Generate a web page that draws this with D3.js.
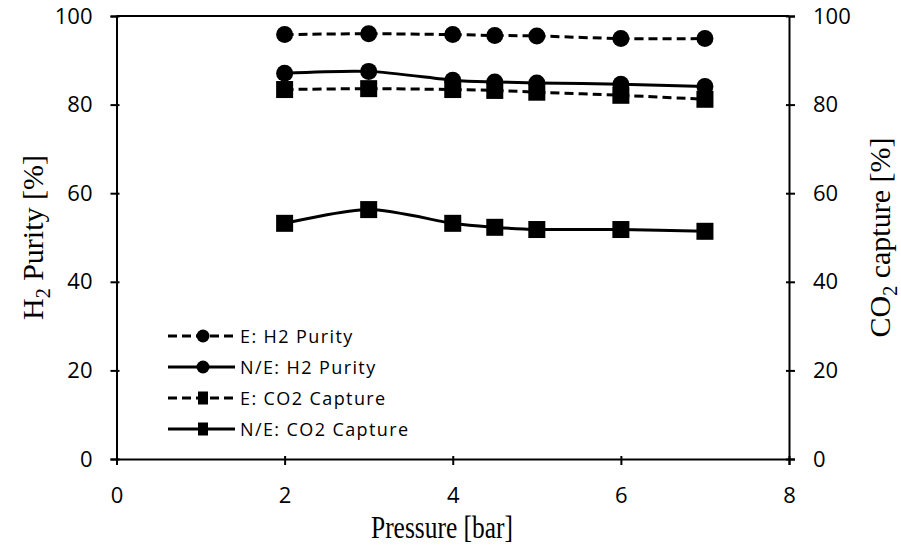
<!DOCTYPE html>
<html>
<head>
<meta charset="utf-8">
<script src="https://cdn.jsdelivr.net/npm/d3@7"></script>
<style>
  body { margin: 0; background: #fff; }
  .axis-title { font-family: "Liberation Serif", "Times New Roman", serif; font-size: 30px; fill: #000; }
  .legend-label { font-family: "Open Sans", sans-serif; font-size: 18px; letter-spacing: 1.4px; fill: #000; }
</style>
</head>
<body>
<script>
// pressure values on the x axis
const pressure = [2, 3, 4, 4.5, 5, 6, 7];

// H2 purity (left axis) and CO2 capture (right axis)
const eH2Purity = [95.8, 96.0, 95.8, 95.6, 95.5, 94.9, 94.9];
const neH2Purity = [87.1, 87.5, 85.5, 85.1, 84.9, 84.6, 84.1];
const eCO2Capture = [83.4, 83.6, 83.4, 83.2, 82.8, 82.1, 81.2];
const neCO2Capture = [53.2, 56.3, 53.2, 52.3, 51.8, 51.8, 51.4];

const xTicks = [0, 2, 4, 6, 8];
const yTicks = [0, 20, 40, 60, 80, 100];

const seriesNames = ["E: H2 Purity", "N/E: H2 Purity", "E: CO2 Capture", "N/E: CO2 Capture"];

const width = 901, height = 557;
const margin = { top: 16, right: 112, bottom: 98, left: 116.5 };

const svg = d3.select("body")
  .append("svg")
  .attr("width", width)
  .attr("height", height);

const x = d3.scaleLinear().domain([0, 8]).range([margin.left, width - margin.right]);
const yLeft = d3.scaleLinear().domain([0, 100]).range([height - margin.bottom, margin.top]);
const yRight = d3.scaleLinear().domain([0, 100]).range([height - margin.bottom, margin.top]);

// series list: which axis, dashed or not, marker type
const series = [
  { name: seriesNames[0], values: eH2Purity, y: yLeft, dashed: true, marker: "circle" },
  { name: seriesNames[1], values: neH2Purity, y: yLeft, dashed: false, marker: "circle" },
  { name: seriesNames[2], values: eCO2Capture, y: yRight, dashed: true, marker: "square" },
  { name: seriesNames[3], values: neCO2Capture, y: yRight, dashed: false, marker: "square" }
];

// top border of the plot area
svg.append("line")
  .attr("x1", x(0)).attr("x2", x(8))
  .attr("y1", yLeft(100)).attr("y2", yLeft(100))
  .attr("stroke", "#000").attr("stroke-width", 2);

// axes
const xAxis = svg.append("g")
  .attr("transform", `translate(0,${yLeft(0)})`)
  .call(d3.axisBottom(x).tickValues(xTicks).tickSize(6).tickPadding(22).tickFormat(d3.format("d")));

const leftAxis = svg.append("g")
  .attr("transform", `translate(${x(0)},0)`)
  .call(d3.axisLeft(yLeft).tickValues(yTicks).tickSize(6).tickPadding(18).tickFormat(d3.format("d")));

const rightAxis = svg.append("g")
  .attr("transform", `translate(${x(8)},0)`)
  .call(d3.axisRight(yRight).tickValues(yTicks).tickSize(6).tickPadding(18).tickFormat(d3.format("d")));

[xAxis, leftAxis, rightAxis].forEach((g) => {
  g.selectAll(".tick text")
    .style("font-family", "'Open Sans', sans-serif")
    .style("font-size", "22px")
    .attr("fill", "#000");
  g.select(".domain").attr("stroke", "#000").attr("stroke-width", 2);
  g.selectAll(".tick line").attr("stroke", "#000").attr("stroke-width", 2);
});
// the ticks cross the axis line a bit
leftAxis.selectAll(".tick line").attr("x1", 3);
rightAxis.selectAll(".tick line").attr("x1", -3);
xAxis.selectAll(".tick line").attr("y1", -3);

// lines, smoothed like the source
const lineFor = (s) => d3.line()
  .x((d, i) => x(pressure[i]))
  .y((d) => s.y(d))
  .curve(d3.curveCardinal.tension(0.2));

series.forEach((s) => {
  svg.append("path")
    .datum(s.values)
    .attr("fill", "none")
    .attr("stroke", "#000")
    .attr("stroke-width", 3)
    .attr("stroke-dasharray", s.dashed ? "9,5" : null)
    .attr("d", lineFor(s));
});

// markers
series.forEach((s) => {
  if (s.marker === "circle") {
    svg.selectAll(null)
      .data(s.values)
      .enter()
      .append("circle")
      .attr("cx", (d, i) => x(pressure[i]))
      .attr("cy", (d) => s.y(d))
      .attr("r", 8.5)
      .attr("fill", "#000");
  } else {
    svg.selectAll(null)
      .data(s.values)
      .enter()
      .append("rect")
      .attr("x", (d, i) => x(pressure[i]) - 8.5)
      .attr("y", (d) => s.y(d) - 8.5)
      .attr("width", 17)
      .attr("height", 17)
      .attr("fill", "#000");
  }
});

// axis titles
svg.append("text")
  .attr("class", "axis-title")
  .attr("x", 442)
  .attr("y", 538)
  .attr("text-anchor", "middle")
  .attr("textLength", 142)
  .attr("lengthAdjust", "spacingAndGlyphs")
  .style("font-size", "31px")
  .text("Pressure  [bar]");

const leftTitle = svg.append("text")
  .attr("class", "axis-title")
  .attr("transform", `translate(43,${(yLeft(0) + yLeft(100)) / 2}) rotate(-90)`)
  .attr("text-anchor", "middle");
leftTitle.append("tspan").text("H");
leftTitle.append("tspan").attr("font-size", "20px").attr("dy", 7).text("2");
leftTitle.append("tspan").attr("dy", -7).text(" Purity  [%]");

const rightTitle = svg.append("text")
  .attr("class", "axis-title")
  .attr("transform", `translate(890,${(yRight(0) + yRight(100)) / 2}) rotate(-90)`)
  .attr("text-anchor", "middle");
rightTitle.append("tspan").text("CO");
rightTitle.append("tspan").attr("font-size", "20px").attr("dy", 7).text("2");
rightTitle.append("tspan").attr("dy", -7).text(" capture  [%]");

// legend
const legend = svg.append("g").attr("transform", "translate(168,336)");
const rowGap = 31;
series.forEach((s, i) => {
  const row = legend.append("g").attr("transform", `translate(0,${i * rowGap})`);
  row.append("line")
    .attr("x1", 0).attr("x2", 67)
    .attr("y1", 0).attr("y2", 0)
    .attr("stroke", "#000")
    .attr("stroke-width", 3)
    .attr("stroke-dasharray", s.dashed ? "9,5" : null);
  if (s.marker === "circle") {
    row.append("circle").attr("cx", 35).attr("cy", 0).attr("r", 6.5).attr("fill", "#000");
  } else {
    row.append("rect").attr("x", 30).attr("y", -6.5).attr("width", 10).attr("height", 13).attr("fill", "#000");
  }
  row.append("text")
    .attr("class", "legend-label")
    .attr("x", 72)
    .attr("y", 6.5)
    .text(s.name);
});
</script>
</body>
</html>
